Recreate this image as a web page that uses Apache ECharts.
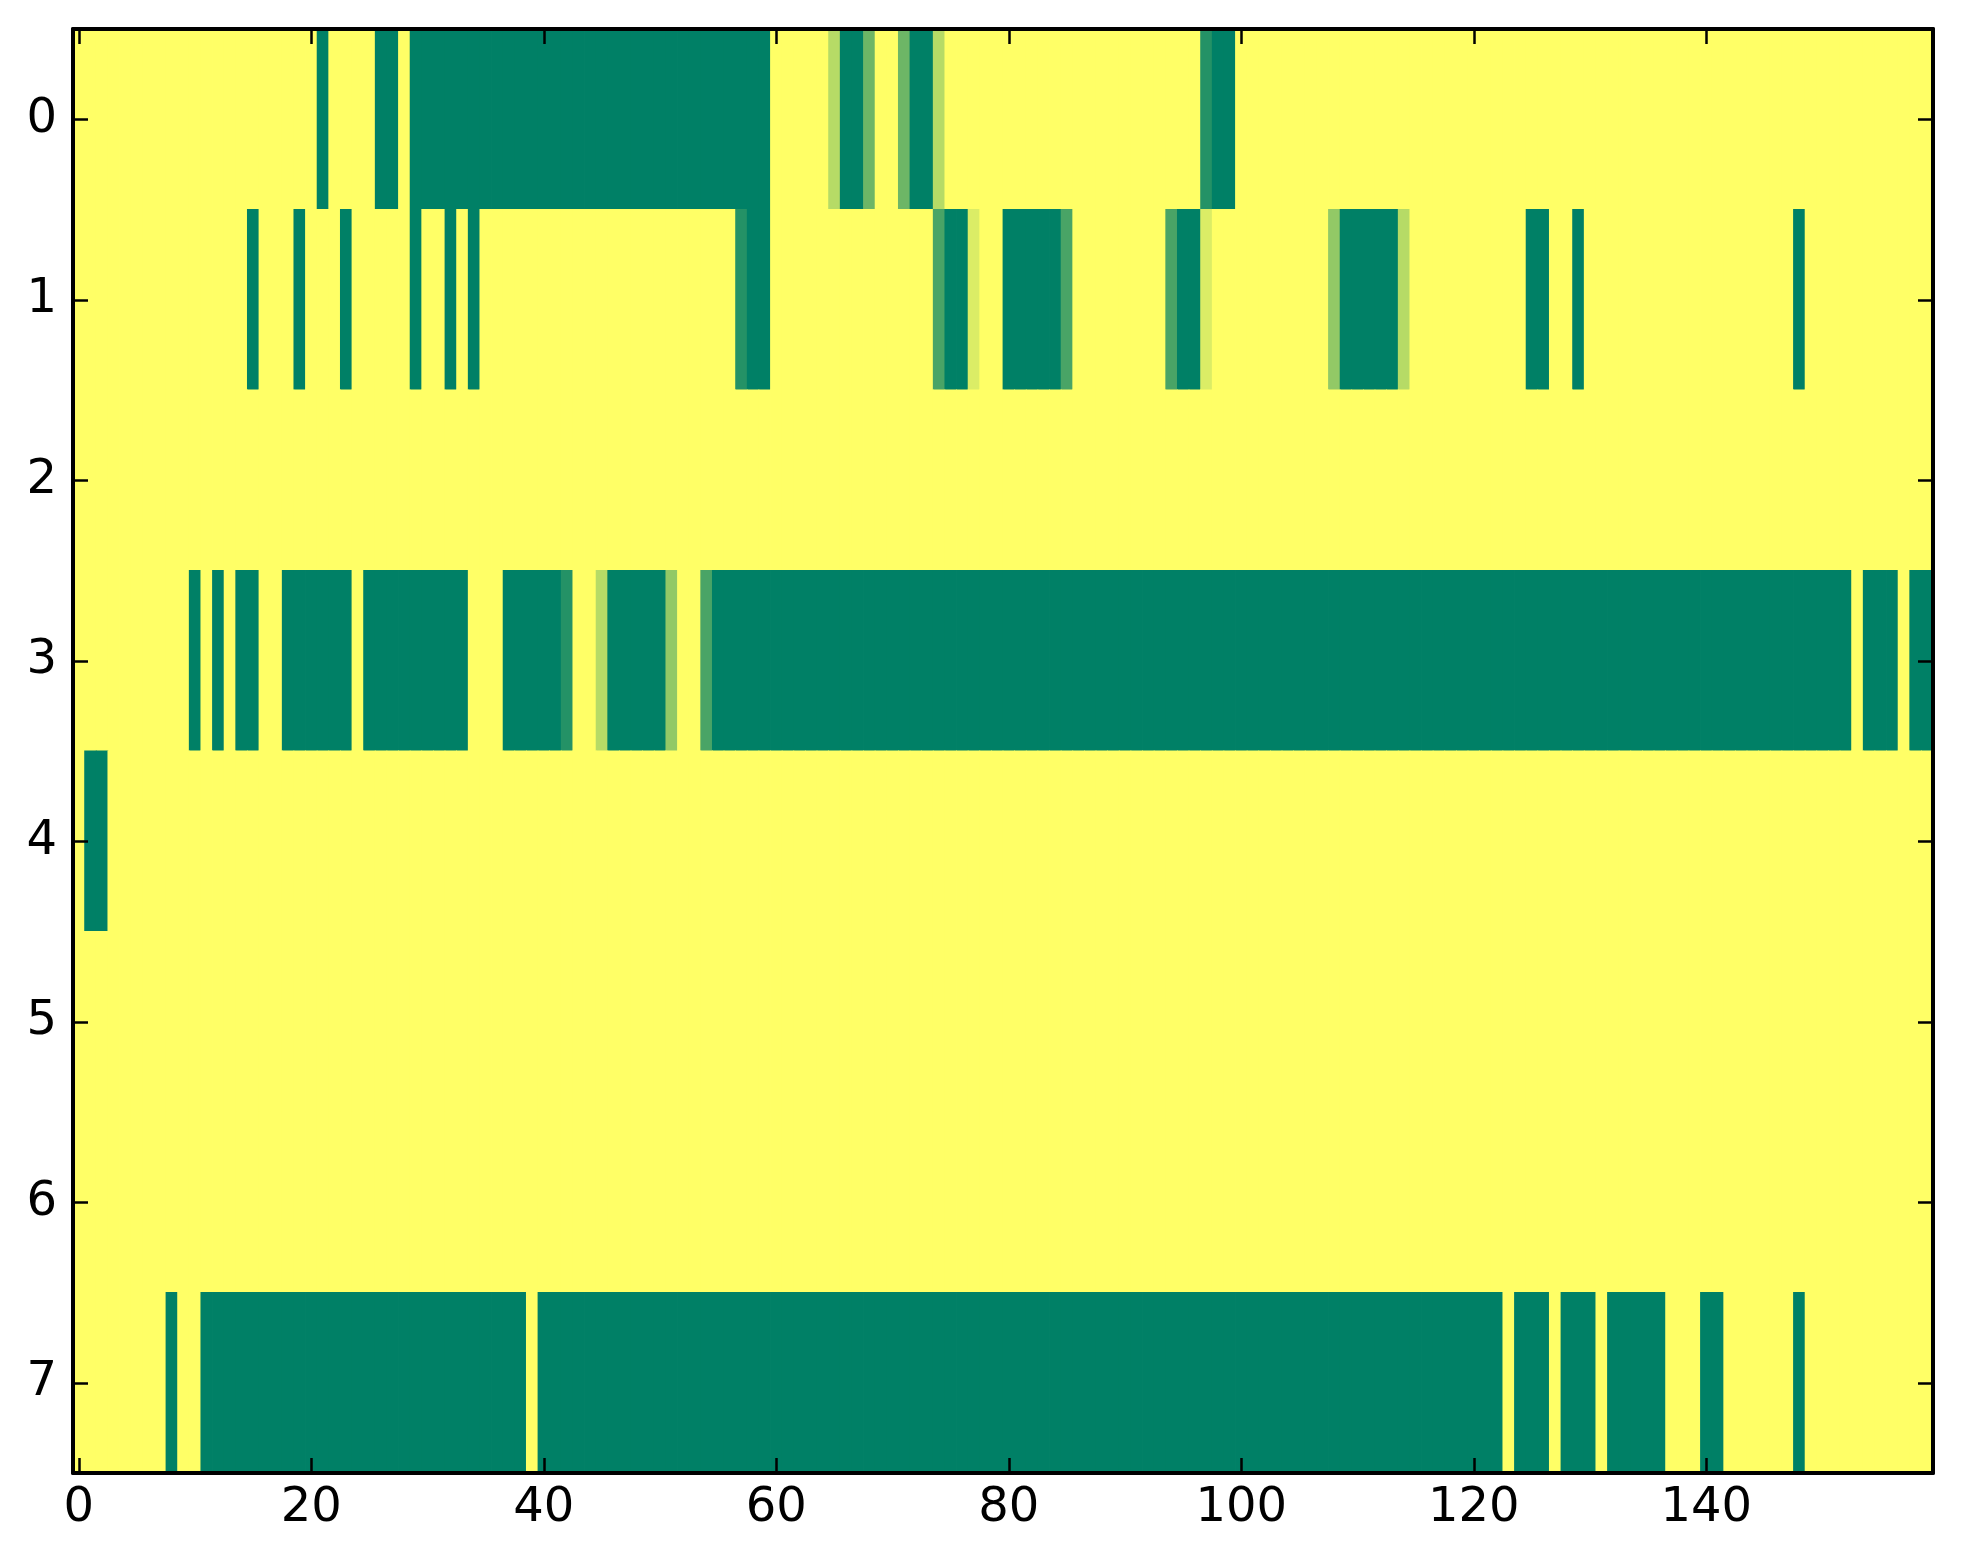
<!DOCTYPE html>
<html>
<head>
<meta charset="utf-8">
<script src="https://cdn.jsdelivr.net/npm/echarts@6/dist/echarts.min.js"></script>
<style>
html,body{margin:0;padding:0;background:#fff;}
#chart{width:1963px;height:1564px;}
</style>
</head>
<body>
<div id="chart"></div>
<script>
// Each row: runs of [level, count]; cell value = level / 7 (0 = green, 1 = yellow)
const row0Runs = [[7,21],[0,1],[7,4],[0,2],[7,1],[0,31],[7,5],[5,1],[0,2],[3,1],[7,2],[3,1],[0,2],[5,1],[7,22],[1,1],[0,2],[7,60]];
const row1Runs = [[7,15],[0,1],[7,3],[0,1],[7,3],[0,1],[7,5],[0,1],[7,2],[0,1],[7,1],[0,1],[7,22],[1,1],[0,2],[7,14],[2,1],[0,2],[6,1],[7,2],[0,5],[2,1],[7,8],[2,1],[0,2],[6,1],[7,10],[4,1],[0,5],[5,1],[7,10],[0,2],[7,2],[0,1],[7,18],[0,1],[7,11]];
const row2Runs = [[7,160]];
const row3Runs = [[7,10],[0,1],[7,1],[0,1],[7,1],[0,2],[7,2],[0,6],[7,1],[0,9],[7,3],[0,5],[1,1],[7,2],[5,1],[0,5],[4,1],[7,2],[2,1],[0,98],[7,1],[0,3],[7,1],[0,2]];
const row4Runs = [[7,1],[0,2],[7,157]];
const row5Runs = [[7,160]];
const row6Runs = [[7,160]];
const row7Runs = [[7,8],[0,1],[7,2],[0,28],[7,1],[0,83],[7,1],[0,3],[7,1],[0,3],[7,1],[0,5],[7,3],[0,2],[7,6],[0,1],[7,11]];

const allRows = [row0Runs,row1Runs,row2Runs,row3Runs,row4Runs,row5Runs,row6Runs,row7Runs];
const nCols = 160;
const xCategories = Array.from({length: nCols}, (_, i) => String(i));
const yCategories = ['0','1','2','3','4','5','6','7'];
const xTickEvery = 20;

const data = [];
allRows.forEach((runs, r) => {
  let c = 0;
  runs.forEach(([lvl, n]) => {
    for (let k = 0; k < n; k++) { data.push([c, r, lvl / 7]); c++; }
  });
});

const font = 'DejaVu Sans';
const tickStyle = {show: true, inside: true, length: 15, lineStyle: {color: '#000', width: 2.5}};
const lineStyle = {show: true, onZero: false, lineStyle: {color: '#000', width: 4}};

const chart = echarts.init(document.getElementById('chart'), null, {renderer: 'canvas'});
chart.setOption({
  animation: false,
  backgroundColor: '#fff',
  grid: {left: 73, top: 29, width: 1860, height: 1444, containLabel: false},
  visualMap: {type: 'continuous', show: false, min: 0, max: 1, dimension: 2, seriesIndex: 0,
    inRange: {color: ['#008066', '#ffff66']}},
  xAxis: [
    {type: 'category', data: xCategories, position: 'bottom', z: 10,
      axisLine: lineStyle,
      axisTick: Object.assign({}, tickStyle, {alignWithLabel: true, interval: (i) => i % xTickEvery === 0}),
      axisLabel: {interval: (i) => i % xTickEvery === 0, color: '#000', fontSize: 48, fontFamily: font, margin: 12},
      splitLine: {show: false}},
    {type: 'category', data: xCategories, position: 'top', z: 10,
      axisLine: lineStyle,
      axisTick: Object.assign({}, tickStyle, {alignWithLabel: true, interval: (i) => i % xTickEvery === 0}),
      axisLabel: {show: false}, splitLine: {show: false}}
  ],
  yAxis: [
    {type: 'category', data: yCategories, inverse: true, position: 'left', z: 10,
      axisLine: lineStyle,
      axisTick: Object.assign({}, tickStyle, {alignWithLabel: true, interval: 0}),
      axisLabel: {interval: 0, color: '#000', fontSize: 48, fontFamily: font, margin: 16},
      splitLine: {show: false}},
    {type: 'category', data: yCategories, inverse: true, position: 'right', z: 10,
      axisLine: lineStyle,
      axisTick: Object.assign({}, tickStyle, {alignWithLabel: true, interval: 0}),
      axisLabel: {show: false}, splitLine: {show: false}}
  ],
  series: [{
    type: 'custom', xAxisIndex: 0, yAxisIndex: 0, data: data,
    encode: {x: 0, y: 1},
    renderItem: function (params, api) {
      const p = api.coord([api.value(0), api.value(1)]);
      const s = api.size([1, 1]);
      return {
        type: 'rect',
        shape: {x: p[0] - s[0] / 2 - 0.4, y: p[1] - s[1] / 2 - 0.4, width: s[0] + 0.8, height: s[1] + 0.8},
        style: {fill: api.visual('color'), stroke: null}
      };
    },
    silent: true
  }]
});
</script>
</body>
</html>
